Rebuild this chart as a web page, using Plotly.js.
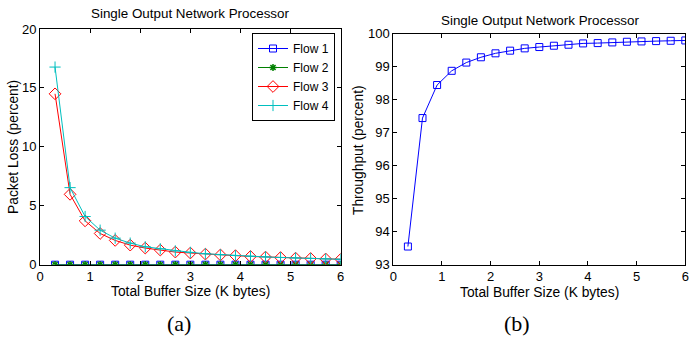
<!DOCTYPE html>
<html>
<head>
<meta charset="utf-8">
<script src="https://cdn.plot.ly/plotly-3.0.1.min.js"></script>
<style>html,body{margin:0;padding:0;background:#fff;}#chart{width:689px;height:338px;}</style>
</head>
<body>
<div id="chart"></div>
<script>
var bufferSize = [0.3,0.6,0.9,1.2,1.5,1.8,2.1,2.4,2.7,3.0,3.3,3.6,3.9,4.2,4.5,4.8,5.1,5.4,5.7,6.0];
var flow1Loss = [0,0,0,0,0,0,0,0,0,0,0,0,0,0,0,0,0,0,0,0];
var flow2Loss = [0,0,0,0,0,0,0,0,0,0,0,0,0,0,0,0,0,0,0,0];
var flow3Loss = [14.5,5.97,3.72,2.65,2.06,1.66,1.41,1.24,1.07,0.99,0.90,0.83,0.77,0.70,0.65,0.61,0.56,0.53,0.49,0.46];
var flow4Loss = [16.77,6.54,4.09,2.93,2.25,1.83,1.52,1.35,1.17,1.05,0.93,0.85,0.78,0.72,0.66,0.61,0.57,0.53,0.49,0.46];
var throughput = [93.55,97.44,98.44,98.87,99.12,99.28,99.40,99.48,99.55,99.59,99.63,99.66,99.70,99.71,99.73,99.75,99.76,99.77,99.78,99.79];
var xTicks = [0,1,2,3,4,5,6];
var lossTicks = [0,5,10,15,20];
var thrTicks = [93,94,95,96,97,98,99,100];

var font = 'Liberation Sans, Arial, sans-serif';
var serif = 'Liberation Serif, Times New Roman, serif';
var W = 689, H = 338;
function px(x){return x/W;}
function py(y){return (H-y)/H;}

var traces = [
  {x: bufferSize, y: flow1Loss, name: 'Flow 1', mode: 'lines+markers', xaxis:'x', yaxis:'y',
   line:{color:'#0000ff', width:1}, marker:{symbol:'square-open', size:7, color:'#0000ff', line:{width:1}}},
  {x: bufferSize, y: flow2Loss, name: 'Flow 2', mode: 'lines+markers', xaxis:'x', yaxis:'y',
   line:{color:'#008000', width:1}, marker:{symbol:'asterisk-open', size:6, color:'#008000', line:{width:1.5, color:'#008000'}}},
  {x: bufferSize, y: flow3Loss, name: 'Flow 3', mode: 'lines+markers', xaxis:'x', yaxis:'y',
   line:{color:'#ff0000', width:1}, marker:{symbol:'diamond-open', size:9, color:'#ff0000', line:{width:1}}},
  {x: bufferSize, y: flow4Loss, name: 'Flow 4', mode: 'lines+markers', xaxis:'x', yaxis:'y',
   line:{color:'#00bfbf', width:1}, marker:{symbol:'cross-thin-open', size:8, color:'#00bfbf', line:{width:1, color:'#00bfbf'}}},
  {x: bufferSize, y: throughput, name: 'Throughput', mode: 'lines+markers', xaxis:'x2', yaxis:'y2', showlegend:false,
   line:{color:'#0000ff', width:1}, marker:{symbol:'square-open', size:7, color:'#0000ff', line:{width:1}}}
];

var axisCommon = {
  showgrid:false, zeroline:false, showline:true, linecolor:'#000', linewidth:1, mirror:'ticks',
  ticks:'inside', ticklen:4, tickcolor:'#000', tickwidth:1,
  tickfont:{family:font, size:13, color:'#000'}
};

function ann(text, x, y, opts){
  return Object.assign({text:text, x:px(x), y:py(y), xref:'paper', yref:'paper', xanchor:'center', yanchor:'middle',
    showarrow:false, font:{family:font, size:13.8, color:'#000'}}, opts||{});
}
var titleFont = {family:font, size:13.4, color:'#000'};

var layout = {
  width: W, height: H,
  margin:{l:0,r:0,t:0,b:0},
  paper_bgcolor:'#fff', plot_bgcolor:'#fff',
  showlegend:true,
  legend:{x:px(252), y:py(33), xanchor:'left', yanchor:'top', bgcolor:'#fff', bordercolor:'#000', borderwidth:1,
          font:{family:font, size:12, color:'#000'}, tracegroupgap:0, itemwidth:30},
  xaxis: Object.assign({}, axisCommon, {domain:[px(40), px(340.7)], range:[0,6], tickvals:xTicks, anchor:'y'}),
  yaxis: Object.assign({}, axisCommon, {domain:[py(264.7), py(29)], range:[0,20], tickvals:lossTicks, anchor:'x'}),
  xaxis2: Object.assign({}, axisCommon, {domain:[px(393.3), px(685.3)], range:[0,6], tickvals:xTicks, anchor:'y2'}),
  yaxis2: Object.assign({}, axisCommon, {domain:[py(264.7), py(33.5)], range:[93,100], tickvals:thrTicks, anchor:'x2'}),
  annotations: [
    ann('Single Output Network Processor', 190, 14, {font:titleFont}),
    ann('Single Output Network Processor', 540, 20.5, {font:titleFont}),
    ann('Total Buffer Size (K bytes)', 190, 291.5),
    ann('Total Buffer Size (K bytes)', 539, 292),
    ann('Packet Loss (percent)', 13, 147, {textangle:-90}),
    ann('Throughput (percent)', 358, 150, {textangle:-90}),
    ann('(a)', 179, 323, {font:{family:serif, size:22, color:'#000'}}),
    ann('(b)', 517, 323, {font:{family:serif, size:22, color:'#000'}})
  ]
};

Plotly.newPlot('chart', traces, layout, {displayModeBar:false, staticPlot:true});
</script>
</body>
</html>
